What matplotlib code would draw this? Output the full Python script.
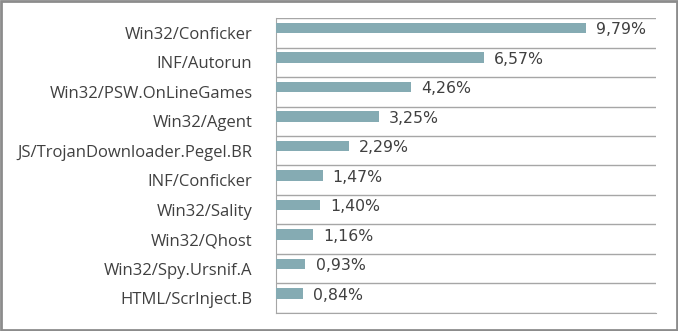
import numpy as np
import matplotlib.pyplot as plt
from matplotlib.patches import Rectangle

# Dane z wykresu
categories = ['Win32/Conficker', 'INF/Autorun', 'Win32/PSW.OnLineGames', 'Win32/Agent',
              'JS/TrojanDownloader.Pegel.BR', 'INF/Conficker', 'Win32/Sality',
              'Win32/Qhost', 'Win32/Spy.Ursnif.A', 'HTML/ScrInject.B']
values = [9.79, 6.57, 4.26, 3.25, 2.29, 1.47, 1.40, 1.16, 0.93, 0.84]
value_labels = ['9,79%', '6,57%', '4,26%', '3,25%', '2,29%', '1,47%', '1,40%', '1,16%', '0,93%', '0,84%']

bar_color = '#85abb3'
grid_color = '#a6a6a6'

fig = plt.figure(figsize=(6.78, 3.31), dpi=100)
ax = fig.add_axes([0.4071, 0.0544, 0.5605, 0.8912])

y = np.arange(len(categories))
ax.barh(y - 0.16, values, height=0.36, color=bar_color, zorder=3)

# Etykiety wartości
for yi, v, lab in zip(y, values, value_labels):
    ax.text(v + 0.32, yi - 0.1, lab, va='center', ha='left',
            fontsize=11.3, color='#404040', family='DejaVu Sans')

ax.set_xlim(0, 12)
ax.set_ylim(len(categories) - 0.5, -0.5)
ax.set_yticks(y)
ax.set_yticklabels(categories, fontsize=12, color='#404040', family='Open Sans')
ax.tick_params(axis='y', length=0, pad=17)
ax.set_xticks([])

# Linie siatki między kategoriami
ax.set_yticks(np.arange(len(categories) + 1) - 0.5, minor=True)
ax.tick_params(axis='y', which='minor', length=0)
ax.grid(axis='y', which='minor', color=grid_color, linewidth=1, zorder=0)

for s in ['top', 'right']:
    ax.spines[s].set_visible(False)
ax.spines['left'].set_color(grid_color)
ax.spines['bottom'].set_color(grid_color)

# Ramka wokół całego obrazka
fig.patches.append(Rectangle((0.002, 0.003), 0.996, 0.994, transform=fig.transFigure,
                             fill=False, edgecolor='#8c8c8c', linewidth=2))

fig.savefig('out.png', dpi=100)
